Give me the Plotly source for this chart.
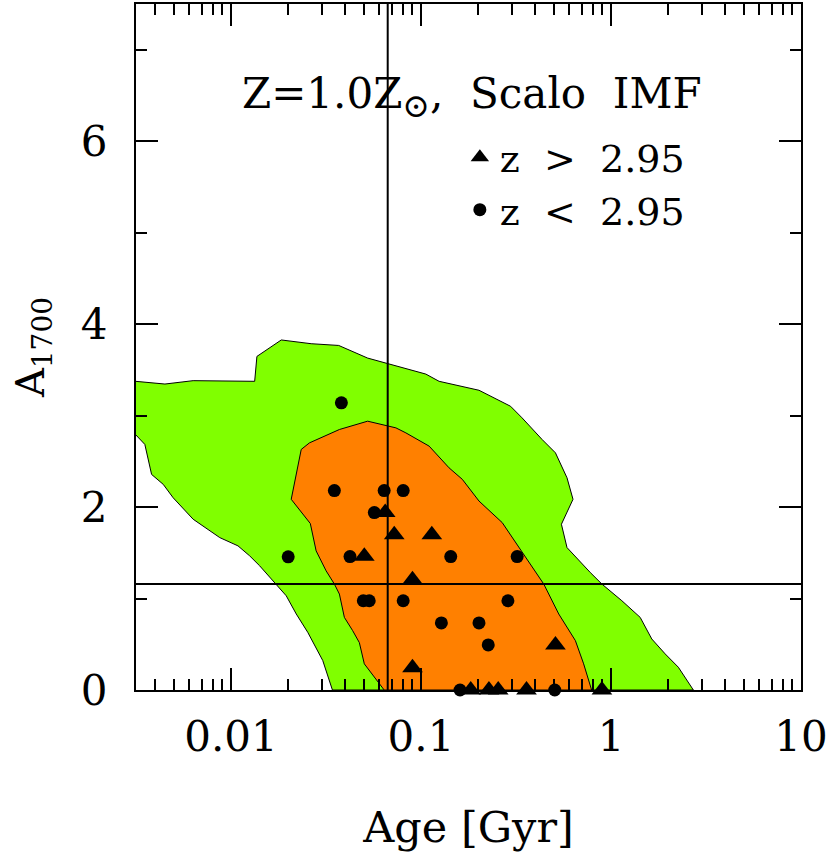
import plotly.graph_objects as go

# Outer (green) confidence region: age [Gyr], A1700
GREEN_AGE = [0.00314, 0.00449, 0.00632, 0.01332, 0.01369, 0.01839, 0.02642, 0.03688,
             0.05236, 0.06805, 0.1060, 0.1245, 0.2019, 0.2961, 0.3405, 0.4338, 0.5100,
             0.5868, 0.6310, 0.5483, 0.5868, 0.7783, 0.8959, 1.1405, 1.4245, 1.639,
             1.927, 2.262, 2.713, 0.03418, 0.03040, 0.02536, 0.02205, 0.01953, 0.01696,
             0.01415, 0.01253, 0.01088, 0.00873, 0.00632, 0.00496, 0.00440, 0.00382,
             0.00352, 0.00314]
GREEN_A = [3.375, 3.345, 3.382, 3.375, 3.647, 3.827, 3.786, 3.767, 3.629, 3.563, 3.454,
           3.375, 3.277, 3.102, 2.975, 2.739, 2.593, 2.320, 2.085, 1.812, 1.557, 1.284,
           1.158, 0.976, 0.794, 0.558, 0.395, 0.249, 0.0, 0.0, 0.322, 0.630, 0.831,
           1.030, 1.175, 1.358, 1.467, 1.576, 1.666, 1.867, 2.102, 2.248, 2.357, 2.685,
           2.794]

# Inner (orange) confidence region
ORANGE_AGE = [0.02342, 0.02588, 0.03720, 0.05236, 0.07379, 0.08326, 0.1104, 0.1405,
              0.1650, 0.2019, 0.2676, 0.3273, 0.4428, 0.5308, 0.6495, 0.7178, 0.7906,
              0.0640, 0.05031, 0.04737, 0.04368, 0.03951, 0.0372, 0.03501, 0.03166,
              0.02806, 0.02615, 0.02075, 0.02342]
ORANGE_A = [2.630, 2.702, 2.848, 2.939, 2.866, 2.811, 2.666, 2.429, 2.303, 2.066, 1.830,
            1.557, 1.158, 0.831, 0.540, 0.286, 0.0, 0.0, 0.286, 0.518, 0.649, 0.794,
            1.049, 1.158, 1.303, 1.521, 1.820, 2.085, 2.630]

# Galaxies with z > 2.95 (triangles)
HIGHZ_AGE = [0.0648, 0.0723, 0.1140, 0.0503, 0.0902, 0.5100, 0.0902, 0.1827, 0.2278,
             0.2549, 0.3592, 0.8959]
HIGHZ_A = [1.941, 1.696, 1.696, 1.461, 1.205, 0.491, 0.243, 0.0, 0.0, 0.0, 0.0, 0.0]

# Galaxies with z < 2.95 (circles)
LOWZ_AGE = [0.0381, 0.0350, 0.0640, 0.0806, 0.0568, 0.0200, 0.0423, 0.1434, 0.3207,
            0.0497, 0.0534, 0.0806, 0.2867, 0.1280, 0.2019, 0.2259, 0.1605, 0.5057]
LOWZ_A = [3.14, 2.18, 2.18, 2.18, 1.94, 1.456, 1.459, 1.459, 1.459, 0.976, 0.976, 0.976,
          0.976, 0.733, 0.733, 0.493, 0.0, 0.0]

AGE_REF = 0.0668
A_REF = 1.158

X_TICKS = [0.01, 0.1, 1, 10]
X_TICK_LABELS = ["0.01", "0.1", "1", "10"]
X_MINOR = [k * 10.0 ** n for n in range(-3, 1) for k in range(2, 10)]
Y_TICKS = [0, 2, 4, 6]
Y_TICK_LABELS = ["0", "2", "4", "6"]

FONT = "DejaVu Serif"

fig = go.Figure()
fig.add_trace(go.Scatter(x=GREEN_AGE, y=GREEN_A, mode="lines", fill="toself",
                         fillcolor="#80ff00", line=dict(color="black", width=1),
                         showlegend=False, hoverinfo="skip"))
fig.add_trace(go.Scatter(x=ORANGE_AGE, y=ORANGE_A, mode="lines", fill="toself",
                         fillcolor="#ff8000", line=dict(color="black", width=1),
                         showlegend=False, hoverinfo="skip"))
fig.add_trace(go.Scatter(x=LOWZ_AGE, y=LOWZ_A, mode="markers", cliponaxis=False,
                         marker=dict(symbol="circle", size=13, color="black"),
                         name="z\u00a0\u00a0<\u00a0\u00a02.95", legendrank=2))
fig.add_trace(go.Scatter(x=HIGHZ_AGE, y=HIGHZ_A, mode="markers", cliponaxis=False,
                         marker=dict(symbol="triangle-up", size=18, color="black"),
                         name="z\u00a0\u00a0>\u00a0\u00a02.95", legendrank=1))

fig.add_vline(x=AGE_REF, line=dict(color="black", width=2), layer="above")
fig.add_hline(y=A_REF, line=dict(color="black", width=2), layer="above")

fig.add_annotation(xref="paper", yref="paper", x=0.156, y=0.864, xanchor="left",
                   yanchor="middle", showarrow=False,
                   text="Z=1.0Z<sub><span style='font-size:33px'>\u2299</span></sub>,"
                        "\u00a0\u00a0Scalo\u00a0\u00a0IMF",
                   font=dict(family=FONT, size=42, color="black"))

axis_common = dict(showline=True, linecolor="black", linewidth=2, mirror="allticks",
                   ticks="inside", ticklen=22, tickwidth=1.5, tickcolor="black",
                   showgrid=False, zeroline=False,
                   tickfont=dict(family=FONT, size=42, color="black"))

fig.update_xaxes(type="log", range=[-2.5, 1], tickvals=X_TICKS, ticktext=X_TICK_LABELS,
                 ticklabelstandoff=9,
                 minor=dict(tickvals=X_MINOR, ticks="inside", ticklen=11, tickwidth=1.5,
                            tickcolor="black", showgrid=False),
                 title=dict(text="Age [Gyr]", font=dict(family=FONT, size=43, color="black"),
                            standoff=52),
                 **axis_common)
fig.update_yaxes(range=[0, 7.5], tickvals=Y_TICKS, ticktext=Y_TICK_LABELS,
                 ticklabelstandoff=18,
                 minor=dict(dtick=1, ticks="inside", ticklen=11, tickwidth=1.5,
                            tickcolor="black", showgrid=False),
                 title=dict(text="A<sub>1700</sub>", font=dict(family=FONT, size=40, color="black"),
                            standoff=24),
                 **axis_common)

fig.update_layout(width=830, height=852, margin=dict(l=136, r=27, t=2, b=162),
                  plot_bgcolor="white", paper_bgcolor="white",
                  font=dict(family=FONT, size=40, color="black"),
                  legend=dict(x=0.487, y=0.822, xanchor="left", yanchor="top",
                              bgcolor="rgba(0,0,0,0)", itemwidth=30,
                              font=dict(family=FONT, size=38, color="black")))

fig.write_html("out.html", config={"displayModeBar": False},
               post_script="document.body.style.margin='0px';")
